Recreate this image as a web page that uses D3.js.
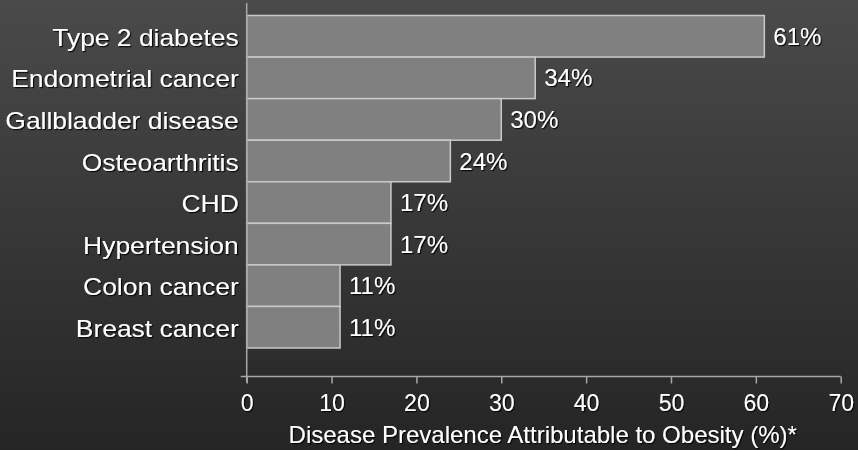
<!DOCTYPE html>
<html>
<head>
<meta charset="utf-8">
<script src="https://cdn.jsdelivr.net/npm/d3@7"></script>
<style>
  html, body { margin: 0; padding: 0; background: #333; }
  svg { display: block; }
  text { font-family: "Liberation Sans", Arial, sans-serif; fill: #ffffff; }
</style>
</head>
<body>
<svg id="chart" width="858" height="450"></svg>
<script>
// Share of each disease's prevalence attributable to obesity
const categories = [
  "Type 2 diabetes",
  "Endometrial cancer",
  "Gallbladder disease",
  "Osteoarthritis",
  "CHD",
  "Hypertension",
  "Colon cancer",
  "Breast cancer"
];
const values = [61, 34, 30, 24, 17, 17, 11, 11];
const xTicks = [0, 10, 20, 30, 40, 50, 60, 70];
const xTitle = "Disease Prevalence Attributable to Obesity (%)*";

const W = 858, H = 450;
const svg = d3.select("#chart");
const defs = svg.append("defs");

// Dark vertical backdrop
const bg = defs.append("linearGradient")
  .attr("id", "bg").attr("x1", 0).attr("y1", 0).attr("x2", 0).attr("y2", 1);
bg.append("stop").attr("offset", "0%").attr("stop-color", "#4a4a4a");
bg.append("stop").attr("offset", "100%").attr("stop-color", "#252525");
svg.append("rect").attr("width", W).attr("height", H).attr("fill", "url(#bg)");

// Soft shadow behind the white lettering
const sh = defs.append("filter").attr("id", "shadow")
  .attr("x", "-10%").attr("y", "-30%").attr("width", "130%").attr("height", "170%");
sh.append("feDropShadow").attr("dx", 1.2).attr("dy", 1.2)
  .attr("stdDeviation", 0.6).attr("flood-color", "#000").attr("flood-opacity", 0.85);

// Widen lettering slightly, as in the slide's typeface
function widen(sel, factor) {
  sel.each(function () {
    const len = this.getComputedTextLength();
    d3.select(this).attr("textLength", len * factor).attr("lengthAdjust", "spacingAndGlyphs");
  });
}

const plot = { left: 246.7, right: 840.7, top: 15.5, bottom: 348, axisY: 376.5, axisTop: 3 };

const x = d3.scaleLinear().domain([0, 70]).range([plot.left, plot.right]);
const y = d3.scaleBand().domain(categories).range([plot.top, plot.bottom]).padding(0);

const rows = categories.map((c, i) => ({ c, v: values[i] }));

// Bars
svg.append("g").selectAll("rect")
  .data(rows)
  .join("rect")
  .attr("x", x(0))
  .attr("y", d => y(d.c))
  .attr("width", d => x(d.v) - x(0))
  .attr("height", y.bandwidth())
  .attr("fill", "#808080")
  .attr("stroke", "#c9c9c9")
  .attr("stroke-width", 1.5);

// Value labels
svg.append("g").attr("filter", "url(#shadow)").selectAll("text")
  .data(rows)
  .join("text")
  .attr("x", d => x(d.v) + 9)
  .attr("y", d => y(d.c) + y.bandwidth() / 2)
  .attr("dy", "0.36em")
  .attr("font-size", 24)
  .text(d => d.v + "%");

// Category labels
const catLabels = svg.append("g").attr("filter", "url(#shadow)").selectAll("text")
  .data(categories)
  .join("text")
  .attr("x", plot.left - 8)
  .attr("y", d => y(d) + y.bandwidth() / 2 + 1)
  .attr("dy", "0.36em")
  .attr("text-anchor", "end")
  .attr("font-size", 24)
  .text(d => d);
widen(catLabels, 1.1);

// Axes
const axisColor = "#a8a8a8";
svg.append("line")
  .attr("x1", plot.left).attr("x2", plot.left)
  .attr("y1", plot.axisTop).attr("y2", plot.axisY + 6)
  .attr("stroke", axisColor).attr("stroke-width", 1.5);

const xAxis = svg.append("g")
  .attr("transform", `translate(0,${plot.axisY})`)
  .call(d3.axisBottom(x).tickValues(xTicks).tickSize(7).tickSizeOuter(0).tickPadding(11));
xAxis.select(".domain").attr("stroke", axisColor).attr("stroke-width", 1.5)
  .attr("d", `M${plot.left - 6},0H${plot.right}`);
xAxis.selectAll(".tick line").attr("stroke", axisColor).attr("stroke-width", 1.5);
xAxis.selectAll(".tick text")
  .attr("fill", "#fff")
  .attr("font-size", 23)
  .attr("font-family", "'Liberation Sans', Arial, sans-serif")
  .attr("filter", "url(#shadow)");

// Axis title
const title = svg.append("text")
  .attr("x", (plot.left + plot.right) / 2 - 1)
  .attr("y", 434.5)
  .attr("dy", "0.36em")
  .attr("text-anchor", "middle")
  .attr("font-size", 24)
  .attr("filter", "url(#shadow)")
  .text(xTitle);
</script>
</body>
</html>
